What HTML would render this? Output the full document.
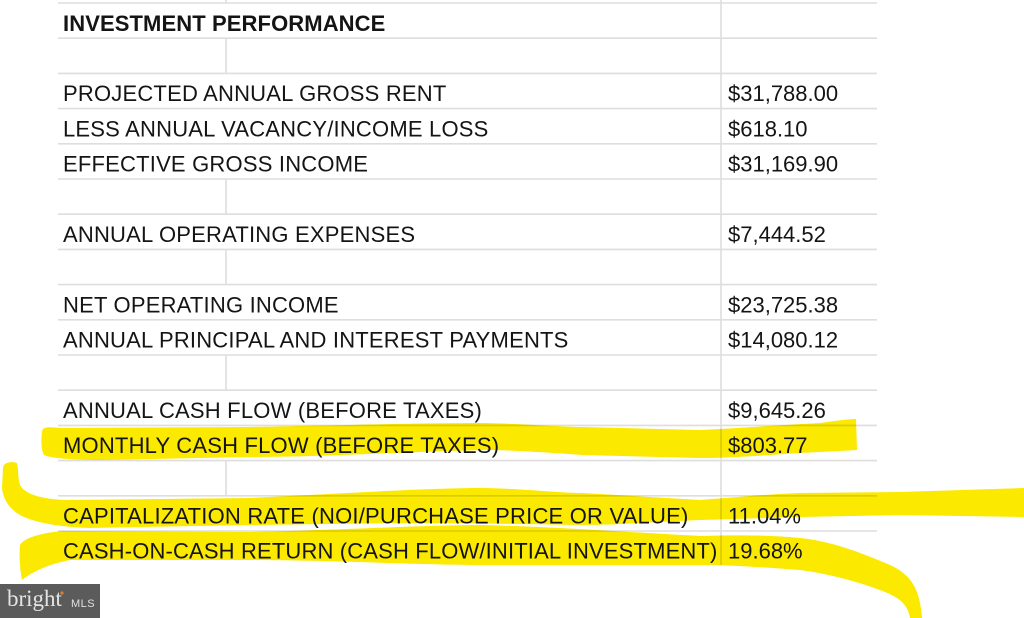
<!DOCTYPE html>
<html>
<head>
<meta charset="utf-8">
<style>
  html, body { margin:0; padding:0; background:#ffffff; }
  body { width:1024px; height:618px; overflow:hidden; }
  svg { display:block; }
  .t { font-family:"Liberation Sans", Arial, sans-serif; font-size:22px; fill:#141414; }
  .l { letter-spacing:0.2px; }
  .b { font-weight:bold; }
</style>
</head>
<body>
<svg width="1024" height="618" viewBox="0 0 1024 618" xmlns="http://www.w3.org/2000/svg">
  <rect width="1024" height="618" fill="#ffffff"/>

  <!-- grid lines -->
  <g stroke="#dedede" stroke-width="1.6" fill="none">
    <line x1="58" y1="3" x2="877" y2="3"/>
    <line x1="58" y1="38.2" x2="877" y2="38.2"/>
    <line x1="58" y1="73.4" x2="877" y2="73.4"/>
    <line x1="58" y1="108.6" x2="877" y2="108.6"/>
    <line x1="58" y1="143.8" x2="877" y2="143.8"/>
    <line x1="58" y1="179" x2="877" y2="179"/>
    <line x1="58" y1="214.2" x2="877" y2="214.2"/>
    <line x1="58" y1="249.4" x2="877" y2="249.4"/>
    <line x1="58" y1="284.6" x2="877" y2="284.6"/>
    <line x1="58" y1="319.8" x2="877" y2="319.8"/>
    <line x1="58" y1="355" x2="877" y2="355"/>
    <line x1="58" y1="390.2" x2="877" y2="390.2"/>
    <line x1="58" y1="425.4" x2="877" y2="425.4"/>
    <line x1="58" y1="460.6" x2="877" y2="460.6"/>
    <line x1="58" y1="495.8" x2="877" y2="495.8"/>
    <line x1="58" y1="531" x2="877" y2="531"/>
    <!-- vertical column divider -->
    <line x1="721" y1="0" x2="721" y2="565"/>
    <!-- left column divider in empty rows -->
    <line x1="226" y1="0" x2="226" y2="3"/>
    <line x1="226" y1="38.2" x2="226" y2="73.4"/>
    <line x1="226" y1="179" x2="226" y2="214.2"/>
    <line x1="226" y1="249.4" x2="226" y2="284.6"/>
    <line x1="226" y1="355" x2="226" y2="390.2"/>
    <line x1="226" y1="460.6" x2="226" y2="495.8"/>
  </g>

  <!-- yellow highlighter strokes -->
  <g fill="#fbe900" style="mix-blend-mode:multiply">
    <path d="M42,432 C42,426 50,427 60,428 L250,427 C350,425 420,423 483,423 C530,424 560,427 583,427 L700,430 C740,428 780,425 820,423 C835,421 848,419 856,419 L857,450 C840,451 820,452 800,453 C770,455 730,458 700,458 L583,455 C540,452 510,450 483,450 C400,452 320,457 250,457 L100,460 C70,460 50,458 44,455 C41,450 41,440 42,432 Z"/>
    <path d="M3,468 C3,462 12,461 17,463 C19,470 17,482 22,488 C30,496 45,499 65,500 L250,498 C350,493 430,488 483,488 C530,489 560,493 583,493 L700,500 C740,497 770,494 800,493 L900,492 L1024,488 L1024,517 L900,515 L800,517 L700,520 C650,522 620,525 583,525 C520,524 450,523 400,523 L250,525 L90,528 C60,527 35,523 20,515 C8,508 3,498 2,488 Z"/>
    <path d="M20,545 C24,538 40,533 63,531 L250,532 C350,530 420,525 483,525 C560,527 640,533 700,536 C740,535 770,535 800,538 C830,541 860,552 890,565 C912,575 920,590 922,618 L910,618 C908,605 900,598 885,592 C860,582 830,574 800,570 C760,567 730,565 700,565 L483,565 C420,565 330,560 250,560 L70,560 C50,564 35,570 22,580 C20,570 19,555 20,545 Z"/>
  </g>

  <!-- labels -->
  <text class="t b" x="63" y="31" letter-spacing="0.1">INVESTMENT PERFORMANCE</text>
  <text class="t l" x="63" y="101">PROJECTED ANNUAL GROSS RENT</text>
  <text class="t l" x="63" y="136.3">LESS ANNUAL VACANCY/INCOME LOSS</text>
  <text class="t l" x="63" y="171.5">EFFECTIVE GROSS INCOME</text>
  <text class="t l" x="63" y="241.9">ANNUAL OPERATING EXPENSES</text>
  <text class="t l" x="63" y="312.3">NET OPERATING INCOME</text>
  <text class="t l" x="63" y="347.5">ANNUAL PRINCIPAL AND INTEREST PAYMENTS</text>
  <text class="t l" x="63" y="417.9">ANNUAL CASH FLOW (BEFORE TAXES)</text>
  <text class="t l" x="63" y="453.1">MONTHLY CASH FLOW (BEFORE TAXES)</text>
  <text class="t l" x="63" y="523.5">CAPITALIZATION RATE (NOI/PURCHASE PRICE OR VALUE)</text>
  <text class="t" x="63" y="558.7" letter-spacing="0.15">CASH-ON-CASH RETURN (CASH FLOW/INITIAL INVESTMENT)</text>

  <!-- values -->
  <text class="t" x="728" y="101">$31,788.00</text>
  <text class="t" x="728" y="136.3">$618.10</text>
  <text class="t" x="728" y="171.5">$31,169.90</text>
  <text class="t" x="728" y="241.9">$7,444.52</text>
  <text class="t" x="728" y="312.3">$23,725.38</text>
  <text class="t" x="728" y="347.5">$14,080.12</text>
  <text class="t" x="728" y="417.9">$9,645.26</text>
  <text class="t" x="728" y="453.1">$803.77</text>
  <text class="t" x="728" y="523.5">11.04%</text>
  <text class="t" x="728" y="558.7">19.68%</text>

  <!-- Bright MLS watermark -->
  <rect x="0" y="584" width="100" height="34" fill="#5b5b5b"/>
  <text x="7" y="606" font-family="Liberation Serif, serif" font-size="23" fill="#e4e4e4">bright</text>
  <circle cx="62" cy="593" r="1.6" fill="#d9822b"/>
  <text x="71" y="607" font-family="Liberation Sans, sans-serif" font-size="11" fill="#e0e0e0" letter-spacing="0.5">MLS</text>
</svg>
</body>
</html>
